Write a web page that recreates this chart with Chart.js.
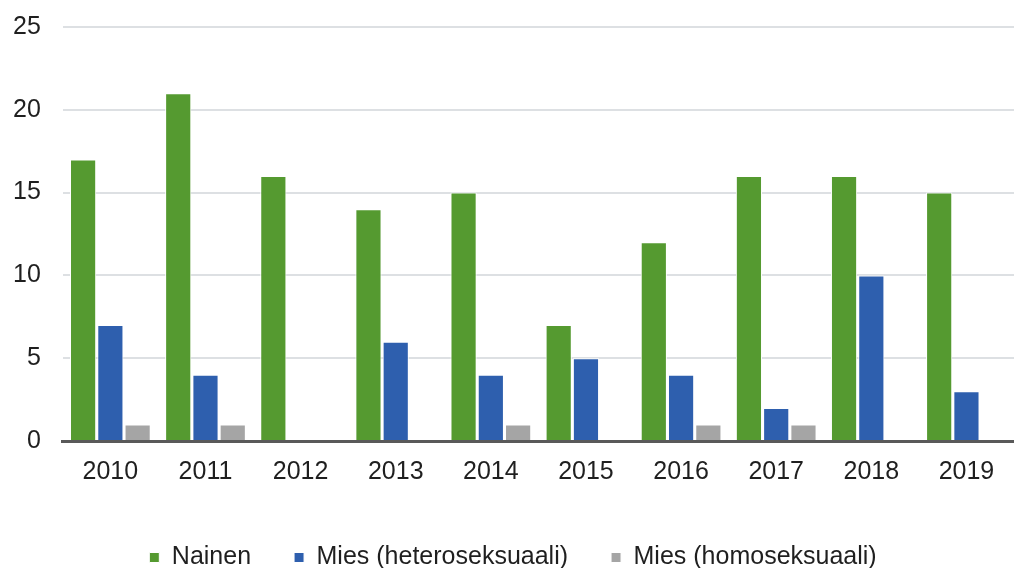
<!DOCTYPE html>
<html>
<head>
<meta charset="utf-8">
<script src="https://cdn.jsdelivr.net/npm/chart.js@4/dist/chart.umd.min.js"></script>
<style>
  html, body { margin:0; padding:0; background:#fff; }
  .wrap { width:1014px; height:568px; position:relative; }
</style>
</head>
<body>
<div class="wrap"><canvas id="c"></canvas></div>
<script>
// Categories and series
const YEARS   = ['2010','2011','2012','2013','2014','2015','2016','2017','2018','2019'];
const NAINEN  = [17, 21, 16, 14, 15, 7, 12, 16, 16, 15];
const HETERO  = [7, 4, 0, 6, 4, 5, 4, 2, 10, 3];
const HOMO    = [1, 1, 0, 0, 1, 0, 1, 1, 0, 0];
const Y_TICKS = [0, 5, 10, 15, 20, 25];

const FONT = "'Liberation Sans', Arial, sans-serif";

function ds(label, data, color) {
  return {
    label, data,
    backgroundColor: color, borderColor: '#ffffff', borderWidth: 1,
    barPercentage: 0.96, categoryPercentage: 0.86
  };
}

// pull the legend a bit closer to the bottom edge
const tightLegend = {
  id: 'tightLegend',
  beforeInit(chart) {
    const fit = chart.legend.fit;
    chart.legend.fit = function () { fit.call(this); this.height -= 12; };
  }
};

new Chart(document.getElementById('c'), {
  type: 'bar',
  data: {
    labels: YEARS,
    datasets: [
      ds('Nainen', NAINEN, '#559a30'),
      ds('Mies (heteroseksuaali)', HETERO, '#2e5fae'),
      ds('Mies (homoseksuaali)', HOMO, '#a5a5a5'),
    ]
  },
  plugins: [tightLegend],
  options: {
    responsive: true, maintainAspectRatio: false, animation: false,
    layout: { padding: { left: 12, right: 0, top: 27, bottom: 0 } },
    plugins: {
      tooltip: { enabled: false },
      legend: {
        position: 'bottom',
        labels: {
          font: { family: FONT, size: 25 }, color: '#1f1f1f',
          boxWidth: 10, boxHeight: 10, padding: 43
        }
      }
    },
    scales: {
      x: {
        afterFit: s => { s.height -= 1; },
        grid: { display: false, drawTicks: false },
        border: { display: true, color: '#595959', width: 3 },
        ticks: { font: { family: FONT, size: 25 }, color: '#1f1f1f', padding: 16 }
      },
      y: {
        min: 0, max: 25,
        afterFit: s => { s.width -= 21; s.paddingTop = 0; s.paddingBottom = 0; },
        afterBuildTicks: axis => { axis.ticks = Y_TICKS.map(v => ({ value: v })); },
        grid: {
          drawTicks: false, lineWidth: 2,
          color: ctx => ctx.tick && ctx.tick.value === 0 ? 'rgba(0,0,0,0)' : '#dde0e3'
        },
        border: { display: false },
        ticks: { font: { family: FONT, size: 25 }, color: '#1f1f1f', padding: 22 }
      }
    }
  }
});
</script>
</body>
</html>
